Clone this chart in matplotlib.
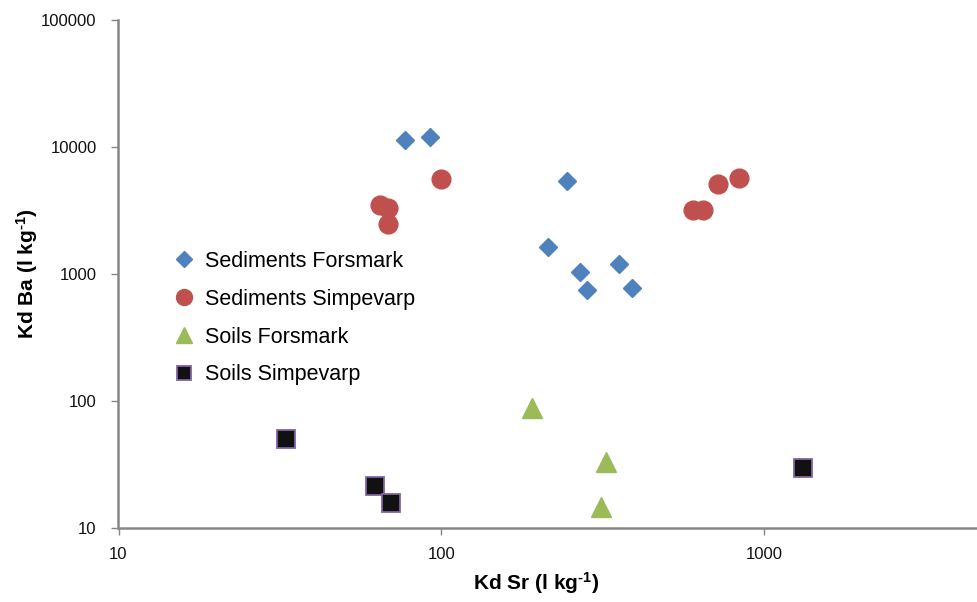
import matplotlib
matplotlib.use("Agg")
import matplotlib.pyplot as plt
from matplotlib.ticker import FixedLocator, FixedFormatter, NullLocator

plt.rcParams['font.family'] = ['Liberation Sans', 'DejaVu Sans']
plt.rcParams['mathtext.fontset'] = 'custom'
plt.rcParams['mathtext.rm'] = 'Liberation Sans:bold'
plt.rcParams['mathtext.bf'] = 'Liberation Sans:bold'
plt.rcParams['mathtext.default'] = 'bf'

# Kd values (l/kg): Sr on x, Ba on y
sed_fors_sr = [77, 92, 245, 214, 269, 282, 355, 389]
sed_fors_ba = [11300, 11950, 5430, 1630, 1030, 750, 1190, 770]

sed_simp_sr = [100, 64.5, 68.4, 68.5, 832, 718, 600, 647]
sed_simp_ba = [5560, 3510, 3330, 2480, 5730, 5080, 3210, 3210]

soil_fors_sr = [191, 323, 312]
soil_fors_ba = [88, 33.3, 14.6]

soil_simp_sr = [33.1, 62.4, 69.9, 1315]
soil_simp_ba = [49.9, 21.3, 15.8, 29.5]

x_ticks = [10, 100, 1000]
y_ticks = [10, 100, 1000, 10000, 100000]

W, H = 978, 602
fig = plt.figure(figsize=(W / 100, H / 100), dpi=100)
x0, x1, y0, y1 = 118.5, 978, 20, 528
ax = fig.add_axes([x0 / W, 1 - y1 / H, (x1 - x0) / W, (y1 - y0) / H])

ax.set_xscale('log')
ax.set_yscale('log')
ax.set_xlim(10, 10 ** (1 + (x1 - x0) / 323.0))
ax.set_ylim(10, 100000)

ax.plot(sed_fors_sr, sed_fors_ba, linestyle='none', marker='D', ms=9.6,
        color='#4F81BD', mec='#4F81BD', label='Sediments Forsmark')
ax.plot(sed_simp_sr, sed_simp_ba, linestyle='none', marker='o', ms=13.5,
        color='#C0504D', mec='#C0504D', label='Sediments Simpevarp')
ax.plot(soil_fors_sr, soil_fors_ba, linestyle='none', marker='^', ms=14,
        color='#9BBB59', mec='#9BBB59', label='Soils Forsmark')
ax.plot(soil_simp_sr, soil_simp_ba, linestyle='none', marker='s', ms=12.5,
        color='#111111', mec='#8064A2', mew=1.3, label='Soils Simpevarp')

ax.xaxis.set_major_locator(FixedLocator(x_ticks))
ax.xaxis.set_major_formatter(FixedFormatter([str(v) for v in x_ticks]))
ax.yaxis.set_major_locator(FixedLocator(y_ticks))
ax.yaxis.set_major_formatter(FixedFormatter([str(v) for v in y_ticks]))
ax.xaxis.set_minor_locator(NullLocator())
ax.yaxis.set_minor_locator(NullLocator())

axis_grey = '#868686'
for side in ['top', 'right']:
    ax.spines[side].set_visible(False)
for side in ['left', 'bottom']:
    ax.spines[side].set_color(axis_grey)
    ax.spines[side].set_linewidth(1.8)
ax.tick_params(axis='both', which='major', direction='out', length=4.8,
               width=1.0, color=axis_grey, labelsize=12, labelcolor='#111111')
ax.tick_params(axis='y', pad=11)
ax.tick_params(axis='x', pad=9)

ax.set_xlabel(r'Kd Sr (l kg$^{\text{-1}}$)', fontsize=15, fontweight='bold', va='center')
ax.xaxis.set_label_coords(536 / W, 1 - 583 / H, transform=fig.transFigure)
ax.set_ylabel(r'Kd Ba (l kg$^{\text{-1}}$)', fontsize=15, fontweight='bold', va='center')
ax.yaxis.set_label_coords(27 / W, 1 - 274 / H, transform=fig.transFigure)

leg = ax.legend(loc='upper left', bbox_to_anchor=(173 / W, 1 - 251 / H),
                bbox_transform=fig.transFigure, frameon=False, fontsize=15.5,
                handlelength=1.0, handletextpad=0.5, labelspacing=0.78,
                borderpad=0, borderaxespad=0, markerscale=0.85, numpoints=1)

fig.savefig('out.png', dpi=100, facecolor='white')
